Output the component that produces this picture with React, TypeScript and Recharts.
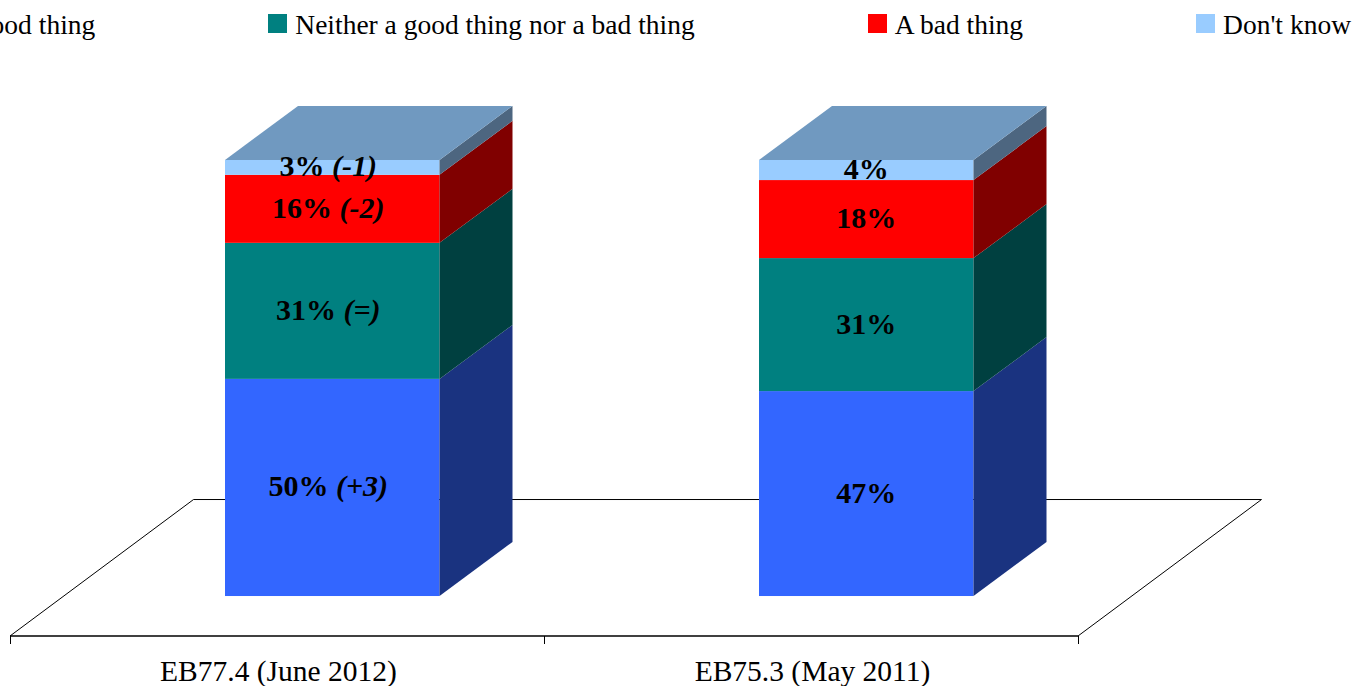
import { BarChart, Bar, XAxis, YAxis, Legend, LabelList, ReferenceArea } from "recharts";

const categories = ["EB77.4 (June 2012)", "EB75.3 (May 2011)"];
// heights as measured off the columns
const goodThing = [49.8, 47];
const neitherThing = [31.2, 30.5];
const badThing = [15.6, 17.9];
const dontKnow = [3.4, 4.6];

// printed labels: rounded percent, first column also has the change since previous wave
const goodLabel = ["50%", "47%"];
const neitherLabel = ["31%", "31%"];
const badLabel = ["16%", "18%"];
const dontKnowLabel = ["3%", "4%"];
const goodDelta = ["(+3)", ""];
const neitherDelta = ["(=)", ""];
const badDelta = ["(-2)", ""];
const dontKnowDelta = ["(-1)", ""];

const data = categories.map((name, i) => ({
  name,
  good: goodThing[i],
  neither: neitherThing[i],
  bad: badThing[i],
  dk: dontKnow[i],
}));

const FONT = '"Liberation Serif", serif';
const PLOT_W = 1068;
const BAR_SHIFT = 55; // bars stand in the middle of the floor depth
const DEPTH_X = 73;
const DEPTH_Y = 54;
const FLOOR_X = 183.5;

function Block({ x, y, width, height, fill, side, top }: any) {
  const fx = x + BAR_SHIFT;
  const rx = fx + width;
  return (
    <g>
      <rect x={fx} y={y} width={width} height={height} fill={fill} />
      <polygon
        points={`${rx},${y} ${rx + DEPTH_X},${y - DEPTH_Y} ${rx + DEPTH_X},${y + height - DEPTH_Y} ${rx},${y + height}`}
        fill={side}
      />
      {top && (
        <polygon
          points={`${fx},${y} ${fx + DEPTH_X},${y - DEPTH_Y} ${rx + DEPTH_X},${y - DEPTH_Y} ${rx},${y}`}
          fill={top}
        />
      )}
    </g>
  );
}

function Floor({ x, y, width, height }: any) {
  const b = y + height;
  return (
    <path
      d={`M${x},${b} L${x + FLOOR_X},${y} L${x + width + FLOOR_X},${y} L${x + width},${b}`}
      fill="#fff"
      stroke="#000"
      strokeWidth={1}
    />
  );
}

function AxisTick({ x, payload, index }: any) {
  const half = PLOT_W / categories.length / 2;
  return (
    <g>
      <line x1={x - half + 0.5} x2={x - half + 0.5} y1={636} y2={644} stroke="#000" />
      {index === categories.length - 1 && (
        <line x1={x + half + 0.5} x2={x + half + 0.5} y1={636} y2={644} stroke="#000" />
      )}
      <text x={x + 1.5} y={681} textAnchor="middle" fontFamily={FONT} fontSize={29.5} fill="#000">
        {payload.value}
      </text>
    </g>
  );
}

const segmentLabel = (labels: string[], deltas: string[]) => (props: any) => {
  const { x, y, width, height, index } = props;
  return (
    <text
      x={x + BAR_SHIFT + width / 2 - (deltas[index] ? 4 : 0)}
      y={y + height / 2 + 9}
      textAnchor="middle"
      fontFamily={FONT}
      fontSize={30}
      fontWeight="bold"
      fill="#000"
    >
      {labels[index]}
      {deltas[index] && <tspan fontStyle="italic"> {deltas[index]}</tspan>}
    </text>
  );
};

function LegendRow({ payload }: any) {
  return (
    <div style={{ display: "flex", justifyContent: "flex-end", gap: 173, paddingRight: 4, whiteSpace: "nowrap" }}>
      {payload.map((entry: any) => (
        <div key={entry.value} style={{ display: "flex", alignItems: "center", flex: "none", fontFamily: FONT, fontSize: 27.5, lineHeight: "30px", color: "#000" }}>
          <span style={{ width: 19, height: 19, background: entry.color, marginRight: 8, marginTop: -3 }} />
          {entry.value}
        </div>
      ))}
    </div>
  );
}

export default function App() {
  return (
    <div style={{ position: "absolute", left: 0, top: 0, width: 1355, height: 686, overflow: "hidden" }}>
      <BarChart
        width={1355}
        height={686}
        data={data}
        barSize={214.5}
        margin={{ top: 100, right: 277, bottom: 0, left: 10 }}
      >
        <YAxis hide domain={[-9.17, 113.76]} />
        <XAxis
          dataKey="name"
          height={50}
          stroke="#000"
          strokeWidth={1.5}
          tickLine={false}
          interval={0}
          tick={<AxisTick />}
        />
        <ReferenceArea y1={-9.17} y2={22.13} shape={<Floor />} />
        <Legend
          layout="horizontal"
          align="center"
          verticalAlign="middle"
          itemSorter={null}
          wrapperStyle={{ left: 0, top: 10, width: 1355, height: 30 }}
          content={<LegendRow />}
        />
        <Bar dataKey="good" name="A good thing" stackId="a" fill="#3366FF" isAnimationActive={false}
          shape={<Block side="#1A3380" />}>
          <LabelList dataKey="good" content={segmentLabel(goodLabel, goodDelta)} />
        </Bar>
        <Bar dataKey="neither" name="Neither a good thing nor a bad thing" stackId="a" fill="#008080" isAnimationActive={false}
          shape={<Block side="#004040" />}>
          <LabelList dataKey="neither" content={segmentLabel(neitherLabel, neitherDelta)} />
        </Bar>
        <Bar dataKey="bad" name="A bad thing" stackId="a" fill="#FF0000" isAnimationActive={false}
          shape={<Block side="#800000" />}>
          <LabelList dataKey="bad" content={segmentLabel(badLabel, badDelta)} />
        </Bar>
        <Bar dataKey="dk" name="Don't know" stackId="a" fill="#99CCFF" isAnimationActive={false}
          shape={<Block side="#4D6680" top="#7099C0" />}>
          <LabelList dataKey="dk" content={segmentLabel(dontKnowLabel, dontKnowDelta)} />
        </Bar>
      </BarChart>
    </div>
  );
}
